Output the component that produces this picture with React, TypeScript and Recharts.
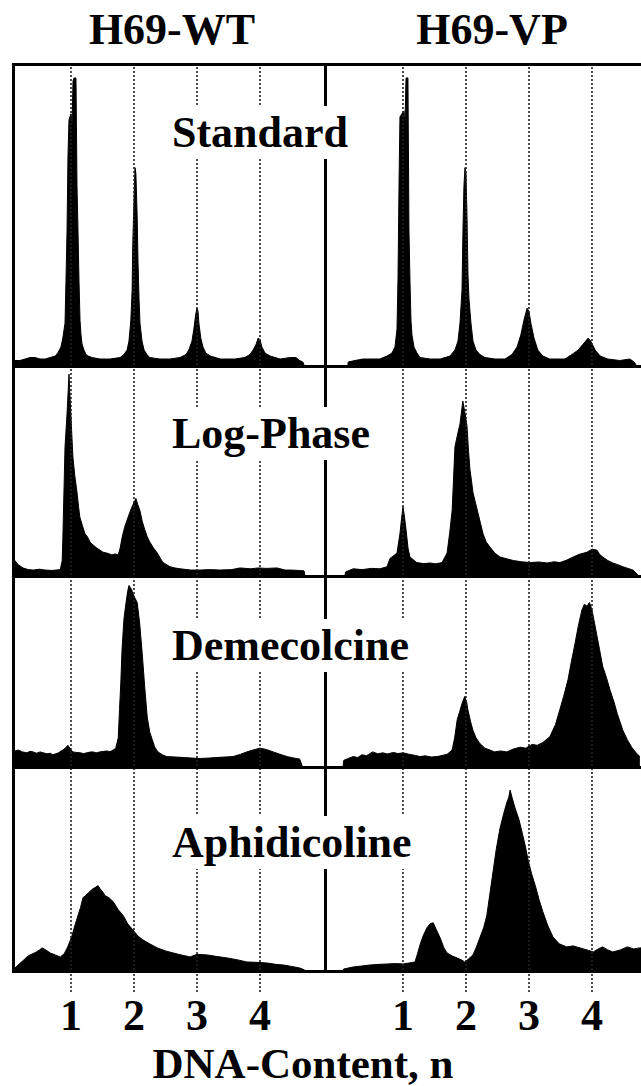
import React from 'react';
import { AreaChart, Area, XAxis, YAxis, ReferenceLine } from 'recharts';

type Hist = [number, number][];

const columnTitles = ['H69-WT', 'H69-VP'];
const treatments = ['Standard', 'Log-Phase', 'Demecolcine', 'Aphidicoline'];
const ploidyTicks = [1, 2, 3, 4];
const axisTitle = 'DNA-Content, n';

// [DNA content n, relative cell count]
const wtStandard: Hist = [
  [0.11, 1.5], [0.19, 1.5], [0.27, 2], [0.35, 2.5], [0.43, 2.5], [0.51, 2], [0.59, 2], [0.67, 2.5],
  [0.75, 3], [0.79, 4], [0.84, 6], [0.87, 9], [0.905, 14], [0.92, 28], [0.937, 45], [0.952, 70],
  [0.968, 82], [0.984, 83], [1.0, 84], [1.016, 80], [1.032, 95], [1.048, 96], [1.063, 96], [1.079, 96],
  [1.095, 60], [1.111, 45], [1.127, 28], [1.143, 15], [1.159, 10], [1.175, 7], [1.206, 5], [1.238, 3.5],
  [1.27, 3], [1.333, 2.5], [1.46, 2], [1.62, 2], [1.78, 2.5], [1.84, 3.5], [1.89, 5], [1.92, 8],
  [1.95, 15], [1.97, 25], [1.98, 40], [2.0, 55], [2.016, 66], [2.03, 64], [2.05, 50], [2.063, 35],
  [2.08, 22], [2.095, 14], [2.127, 8], [2.16, 5], [2.206, 3.5], [2.25, 2.5], [2.41, 2], [2.57, 2],
  [2.73, 2.5], [2.825, 3.5], [2.87, 5], [2.92, 8], [2.95, 12], [2.98, 17], [3.0, 19], [3.016, 18],
  [3.03, 14], [3.06, 9], [3.095, 6], [3.14, 4], [3.21, 3], [3.37, 2], [3.6, 2], [3.76, 2.5],
  [3.84, 3.5], [3.89, 5], [3.94, 7], [3.97, 9], [4.0, 8.5], [4.03, 6], [4.08, 4], [4.16, 3],
  [4.32, 2], [4.48, 2.5], [4.57, 2.5], [4.63, 1.5], [4.68, 1], [4.7, 0],
];

const vpStandard: Hist = [
  [0.127, 0], [0.13, 1], [0.238, 1.5], [0.365, 2], [0.524, 2], [0.635, 2], [0.746, 3], [0.825, 4],
  [0.873, 6], [0.905, 12], [0.921, 29], [0.937, 60], [0.952, 83], [0.984, 84], [1.016, 85], [1.032, 80],
  [1.048, 96], [1.063, 96], [1.079, 96], [1.095, 45], [1.111, 28], [1.127, 15], [1.143, 10], [1.175, 6],
  [1.222, 4], [1.27, 2.5], [1.43, 2], [1.59, 2], [1.746, 3], [1.825, 5], [1.873, 8], [1.905, 14],
  [1.937, 25], [1.952, 45], [1.968, 60], [1.984, 66], [2.0, 64], [2.016, 50], [2.032, 30], [2.048, 22],
  [2.079, 14], [2.111, 8], [2.159, 5], [2.222, 3.5], [2.3, 2.5], [2.46, 2], [2.62, 2], [2.73, 3.5],
  [2.81, 6], [2.87, 10], [2.92, 15], [2.97, 19], [3.0, 18], [3.03, 14], [3.08, 9], [3.14, 5],
  [3.22, 3], [3.33, 2], [3.57, 2], [3.68, 3.5], [3.78, 5], [3.86, 7], [3.94, 9], [3.98, 8],
  [4.05, 5], [4.13, 3], [4.25, 2], [4.44, 1.5], [4.6, 2], [4.67, 1], [4.7, 0],
];

const wtLogPhase: Hist = [
  [0.11, 7], [0.16, 5], [0.24, 3.4], [0.32, 2.6], [0.4, 2.4], [0.5, 2.8], [0.59, 2.4], [0.7, 2.2],
  [0.83, 2.6], [0.86, 7], [0.87, 17], [0.905, 62], [0.937, 78], [0.968, 97], [1.0, 76], [1.03, 57],
  [1.06, 48], [1.095, 40], [1.12, 33], [1.14, 28], [1.18, 24], [1.22, 20], [1.26, 18.5], [1.3, 16],
  [1.35, 14.5], [1.41, 13], [1.46, 12], [1.51, 11], [1.58, 10.5], [1.65, 9.7], [1.7, 10.2], [1.75, 9.7],
  [1.78, 13], [1.81, 18], [1.85, 23], [1.89, 26.5], [1.93, 30], [1.97, 33], [2.03, 37], [2.06, 34],
  [2.095, 31], [2.13, 26], [2.17, 22], [2.21, 18.5], [2.25, 16], [2.31, 13], [2.37, 10.6], [2.42, 8],
  [2.46, 6], [2.52, 5], [2.57, 4], [2.65, 3.4], [2.73, 3], [2.9, 2.4], [3.05, 2.4], [3.2, 2.6],
  [3.37, 2.4], [3.55, 2.6], [3.68, 3.4], [3.85, 3], [3.97, 3.4], [4.1, 3.2], [4.27, 3.4], [4.4, 2.4],
  [4.48, 2.4], [4.63, 2.2], [4.7, 2], [4.71, 0],
];

const vpLogPhase: Hist = [
  [0.08, 0], [0.09, 1.5], [0.21, 3], [0.35, 2.6], [0.5, 3.2], [0.635, 3], [0.746, 4], [0.794, 8],
  [0.86, 9.5], [0.905, 10.6], [0.952, 20], [0.98, 28], [1.0, 33], [1.02, 29], [1.048, 22], [1.08, 13],
  [1.11, 8.7], [1.22, 6], [1.33, 5.5], [1.43, 5.8], [1.52, 5.4], [1.62, 6], [1.7, 10.6], [1.74, 20],
  [1.78, 31], [1.825, 62], [1.86, 67], [1.905, 73], [1.95, 84], [1.98, 79], [2.016, 72], [2.04, 60],
  [2.063, 51], [2.09, 45], [2.11, 40], [2.15, 35], [2.19, 30], [2.23, 25], [2.27, 20], [2.32, 16],
  [2.38, 13.5], [2.46, 10.5], [2.54, 8.7], [2.65, 7.8], [2.75, 7], [2.88, 6.4], [3.02, 6], [3.15, 6.3],
  [3.29, 5.8], [3.4, 6.4], [3.49, 6], [3.6, 7.2], [3.7, 8.7], [3.8, 10], [3.92, 11], [4.0, 12.5],
  [4.08, 12], [4.12, 10], [4.17, 8.7], [4.25, 7], [4.33, 5.8], [4.41, 5], [4.49, 4], [4.57, 3.2],
  [4.65, 2.4], [4.73, 0],
];

const wtDemecolcine: Hist = [
  [0.11, 8], [0.16, 8.5], [0.23, 7.5], [0.3, 7], [0.35, 7.8], [0.4, 7.5], [0.45, 6.8], [0.51, 7.5],
  [0.56, 7], [0.62, 6.5], [0.67, 6.8], [0.71, 6], [0.76, 6.5], [0.8, 7], [0.87, 8.5], [0.91, 9.5],
  [0.95, 11], [0.99, 9], [1.03, 7.5], [1.09, 7.2], [1.15, 7], [1.2, 6.6], [1.25, 7], [1.3, 7.4],
  [1.35, 7.5], [1.4, 7], [1.46, 7.5], [1.52, 7.8], [1.57, 8], [1.62, 7.6], [1.67, 8.5], [1.71, 9.5],
  [1.75, 15], [1.77, 30], [1.79, 44], [1.81, 62], [1.84, 78], [1.87, 86], [1.9, 93], [1.92, 96],
  [1.94, 95], [1.96, 94], [1.98, 92], [2.02, 89], [2.05, 87], [2.09, 76], [2.13, 60], [2.17, 42],
  [2.21, 26], [2.25, 18], [2.29, 14], [2.33, 10], [2.38, 7.5], [2.45, 6], [2.52, 5], [2.65, 4.8],
  [2.8, 4.5], [2.92, 4.2], [3.05, 4], [3.18, 4.2], [3.3, 4.5], [3.45, 4.8], [3.57, 5], [3.69, 6.2],
  [3.79, 7.5], [3.9, 8.6], [4.0, 9.5], [4.1, 8.8], [4.21, 7.5], [4.32, 6.2], [4.43, 5], [4.53, 4.3],
  [4.63, 3.7], [4.67, 0],
];

const vpDemecolcine: Hist = [
  [0.05, 0], [0.06, 3], [0.13, 4], [0.21, 5], [0.28, 4.5], [0.35, 6], [0.42, 5.5], [0.52, 7.5],
  [0.6, 6.5], [0.68, 7], [0.75, 6.4], [0.85, 7.2], [0.92, 6.6], [1.0, 7], [1.1, 6.2], [1.2, 5.6],
  [1.27, 5], [1.35, 5.4], [1.45, 4.8], [1.54, 5], [1.62, 5.6], [1.7, 6.2], [1.78, 8.5], [1.82, 15],
  [1.86, 24.5], [1.9, 29], [1.94, 33.5], [1.98, 37], [2.01, 34], [2.03, 30], [2.07, 24], [2.11, 19],
  [2.16, 15], [2.22, 12], [2.3, 9.5], [2.38, 8.5], [2.45, 7.5], [2.55, 8], [2.65, 7.5], [2.75, 9],
  [2.86, 10], [2.95, 9.5], [3.05, 11.5], [3.13, 11], [3.22, 12.5], [3.33, 15.5], [3.42, 22], [3.49, 30],
  [3.55, 37], [3.62, 46], [3.67, 55], [3.73, 65], [3.78, 74], [3.84, 83], [3.88, 86], [3.92, 85],
  [3.96, 87], [4.0, 83], [4.04, 76], [4.08, 69], [4.12, 62], [4.17, 53], [4.23, 47], [4.29, 40],
  [4.35, 34], [4.4, 28], [4.45, 23], [4.49, 19], [4.56, 14], [4.63, 10], [4.7, 7], [4.76, 5],
];

const wtAphidicoline: Hist = [
  [0.11, 1], [0.16, 2.5], [0.25, 5], [0.3, 6.5], [0.35, 7.5], [0.4, 8.2], [0.45, 9], [0.5, 10],
  [0.54, 11], [0.6, 10], [0.67, 8.5], [0.75, 7.5], [0.83, 6.5], [0.89, 8], [0.94, 11], [0.98, 14],
  [1.02, 17.5], [1.06, 22], [1.1, 26], [1.15, 31], [1.19, 36], [1.23, 37], [1.26, 38], [1.3, 39],
  [1.33, 40], [1.38, 41], [1.43, 42], [1.46, 40.5], [1.5, 39], [1.54, 37], [1.6, 36], [1.67, 34],
  [1.75, 30], [1.83, 27], [1.9, 23], [1.98, 20], [2.06, 17], [2.14, 15], [2.25, 13], [2.37, 11],
  [2.5, 9.5], [2.62, 8.5], [2.75, 7.5], [2.89, 6.5], [3.0, 7.8], [3.16, 7.5], [3.3, 6.8], [3.48, 6],
  [3.65, 5], [3.79, 4], [3.95, 3.8], [4.11, 3.5], [4.25, 2.8], [4.37, 2.5], [4.5, 1.8], [4.63, 1],
  [4.71, 0],
];

const vpAphidicoline: Hist = [
  [0.05, 0], [0.06, 0.5], [0.21, 1.5], [0.35, 2], [0.48, 2.5], [0.62, 2.8], [0.75, 3], [0.88, 3.2],
  [1.0, 3], [1.1, 3.5], [1.19, 4], [1.23, 8], [1.27, 12.5], [1.32, 17], [1.38, 21], [1.43, 23],
  [1.48, 23.5], [1.53, 20], [1.59, 16], [1.65, 11], [1.7, 8.5], [1.78, 7], [1.86, 6], [1.93, 5],
  [1.98, 4], [2.04, 5.5], [2.11, 7.5], [2.16, 11], [2.22, 16], [2.28, 21], [2.33, 27], [2.38, 38],
  [2.43, 49], [2.48, 60], [2.54, 70.5], [2.6, 78], [2.65, 83.5], [2.68, 86], [2.7, 89.5], [2.73, 86],
  [2.78, 80.5], [2.84, 75], [2.89, 68.5], [2.94, 62], [2.98, 55.5], [3.04, 48], [3.1, 42], [3.16, 35],
  [3.22, 29], [3.3, 22], [3.38, 16.5], [3.48, 13], [3.6, 11.5], [3.7, 12], [3.81, 11], [3.92, 10],
  [4.02, 9], [4.1, 10.5], [4.17, 11.5], [4.25, 10], [4.33, 9], [4.45, 10], [4.56, 11.5], [4.66, 10.5],
  [4.76, 11], [4.8, 11],
];

const histograms: Hist[][] = [
  [wtStandard, vpStandard],
  [wtLogPhase, vpLogPhase],
  [wtDemecolcine, vpDemecolcine],
  [wtAphidicoline, vpAphidicoline],
];

// layout
const FONT = "'Liberation Serif', 'Times New Roman', serif";
const rows = [
  { top: 66, height: 299, labelTop: 106 },
  { top: 368, height: 207, labelTop: 407 },
  { top: 578, height: 188, labelTop: 619 },
  { top: 769, height: 201, labelTop: 816 },
];
const cols = [
  { left: 15, width: 309, domain: [0.111, 5.016], titleCenter: 172 },
  { left: 327, width: 314, domain: [-0.206, 4.778], titleCenter: 492 },
];
const AXIS_H = 75;
const DASH = { stroke: '#222', strokeWidth: 1.6, strokeDasharray: '2 2' };

const Panel: React.FC<{ hist: Hist; col: number; row: number }> = ({ hist, col, row }) => {
  const c = cols[col];
  const r = rows[row];
  const last = row === rows.length - 1;
  const data = hist.map(([n, count]) => ({ n, count }));
  return (
    <div style={{ position: 'absolute', left: c.left, top: r.top }}>
      <AreaChart
        width={c.width}
        height={r.height + (last ? AXIS_H : 0)}
        data={data}
        margin={{ top: 0, right: 0, bottom: 0, left: 0 }}
      >
        <XAxis
          type="number"
          dataKey="n"
          domain={c.domain}
          allowDataOverflow
          ticks={ploidyTicks}
          interval={0}
          hide={!last}
          height={AXIS_H}
          axisLine={false}
          tickSize={22}
          tickMargin={7}
          tickLine={DASH}
          tick={{ fill: '#000', fontSize: 44, fontWeight: 'bold', fontFamily: FONT }}
        />
        <YAxis type="number" hide domain={[0, 100]} allowDataOverflow />
        {ploidyTicks.map((t) => (
          <ReferenceLine key={t} x={t} {...DASH} />
        ))}
        <Area
          type="linear"
          dataKey="count"
          stroke="#000"
          strokeWidth={1}
          fill="#000"
          fillOpacity={1}
          dot={false}
          activeDot={false}
          isAnimationActive={false}
        />
      </AreaChart>
    </div>
  );
};

const bar = (left: number, top: number, width: number, height: number, key: string) => (
  <div key={key} style={{ position: 'absolute', left, top, width, height, background: '#000' }} />
);

export default function App() {
  const textBase: React.CSSProperties = {
    position: 'absolute',
    fontFamily: FONT,
    fontWeight: 'bold',
    fontSize: 44,
    lineHeight: '53px',
    color: '#000',
    whiteSpace: 'nowrap',
  };
  return (
    <div
      style={{
        position: 'absolute',
        left: 0,
        top: 0,
        width: 641,
        height: 1086,
        overflow: 'hidden',
        background: '#fff',
      }}
    >
      {histograms.map((pair, ri) =>
        pair.map((hist, ci) => <Panel key={`${ri}-${ci}`} hist={hist} col={ci} row={ri} />)
      )}

      {bar(12, 63, 640, 3, 'top')}
      {bar(12, 365, 640, 3, 's1')}
      {bar(12, 575, 640, 3, 's2')}
      {bar(12, 766, 640, 3, 's3')}
      {bar(12, 970, 640, 3, 'bottom')}
      {bar(12, 63, 3, 910, 'left')}
      {bar(324, 63, 3, 910, 'divider')}

      {treatments.map((t, i) => (
        <div
          key={t}
          style={{ ...textBase, left: 166, top: rows[i].labelTop, padding: '0 6px', background: '#fff' }}
        >
          {t}
        </div>
      ))}

      {columnTitles.map((t, i) => (
        <div
          key={t}
          style={{ ...textBase, left: cols[i].titleCenter - 150, width: 300, top: 3, textAlign: 'center' }}
        >
          {t}
        </div>
      ))}

      <div style={{ ...textBase, fontSize: 43, left: 103, width: 400, top: 1037, textAlign: 'center' }}>
        {axisTitle}
      </div>
    </div>
  );
}
